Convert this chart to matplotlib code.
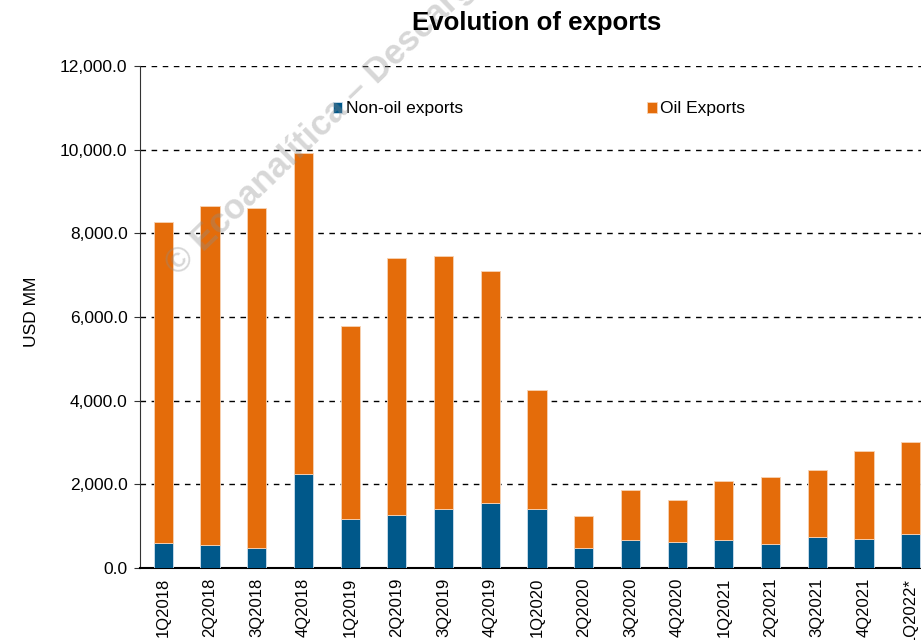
import matplotlib
matplotlib.use("Agg")
import matplotlib.pyplot as plt
from matplotlib.ticker import FuncFormatter

plt.rcParams["font.family"] = ["Liberation Sans", "DejaVu Sans"]

# quarters shown on the x axis
quarters = ["1Q2018", "2Q2018", "3Q2018", "4Q2018", "1Q2019", "2Q2019", "3Q2019",
            "4Q2019", "1Q2020", "2Q2020", "3Q2020", "4Q2020", "1Q2021", "2Q2021",
            "3Q2021", "4Q2021", "1Q2022*"]

# USD MM
non_oil = [605, 542, 486, 2247, 1164, 1275, 1403, 1546, 1403, 486, 677, 629, 677,
           574, 741, 693, 813]
oil = [7665, 8112, 8120, 7674, 4621, 6136, 6056, 5554, 2852, 764, 1180, 1004, 1403,
       1601, 1609, 2104, 2191]

BLUE = "#00588a"
ORANGE = "#e46c0a"

W, H = 921, 640
fig = plt.figure(figsize=(W / 100, H / 100), dpi=100)
# axes run past the right edge, like the cropped original
ax = fig.add_axes([140 / W, 1 - 568 / H, 794 / W, 502 / H])

x = range(len(quarters))
ax.bar(x, non_oil, width=0.41, color=BLUE, edgecolor="#cfe0ee", linewidth=0.6,
       label="Non-oil exports", zorder=3)
ax.bar(x, oil, width=0.41, bottom=non_oil, color=ORANGE, edgecolor="#f7d3b5",
       linewidth=0.6, label="Oil Exports", zorder=3)

ax.set_xlim(-0.5, len(quarters) - 0.5)
ax.set_ylim(0, 12000)
ax.set_yticks(range(0, 12001, 2000))
ax.yaxis.set_major_formatter(FuncFormatter(lambda v, p: f"{v:,.1f}"))
ax.set_xticks(list(x))
ax.set_xticklabels(quarters, rotation=90, fontsize=12)
ax.tick_params(axis="x", length=0, pad=7)
ax.tick_params(axis="y", length=4, labelsize=12.5, color="#333333", pad=5)

ax.grid(axis="y", linestyle=(0, (4, 4)), color="black", linewidth=1, zorder=0)
for s in ["top", "right"]:
    ax.spines[s].set_visible(False)
ax.spines["left"].set_color("#333333")
ax.spines["bottom"].set_linewidth(1.5)

ax.set_ylabel("USD MM", fontsize=12.5)
ax.yaxis.set_label_coords(-0.127, 0.51)

# watermark, under the title
fig.text(172 / W, 1 - 270 / H, "© Ecoanalítica – Descarga autorizada", rotation=44,
         rotation_mode="anchor", ha="left", va="center", fontsize=25,
         fontweight="bold", color="#8c8c8c", alpha=0.35, zorder=5)

fig.text(537 / W, 1 - 23 / H, "Evolution of exports", ha="center", va="center",
         fontsize=18.5, fontweight="bold", zorder=6)

ax.legend(loc="center left", bbox_to_anchor=(186 / 794, 459 / 502), ncol=2,
          frameon=False, fontsize=12.5, handlelength=0.55, handleheight=0.55,
          handletextpad=0.2, columnspacing=10.6, borderaxespad=0)

fig.savefig("out.png", dpi=100)
